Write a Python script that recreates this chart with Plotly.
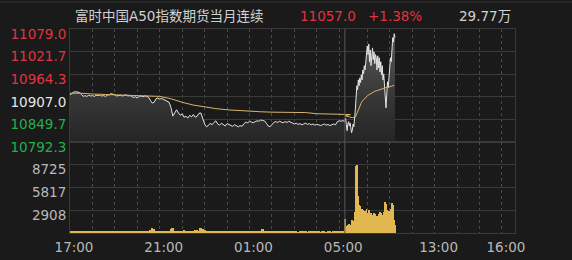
import plotly.graph_objects as go

# ---------------- data ----------------
title_text = "富时中国A50指数期货当月连续"
last_price_text = "11057.0"
change_text = "+1.38%"
volume_total_text = "29.77万"

prev_close = 10907.0
price_ticks = [10792.3, 10849.7, 10907.0, 10964.3, 11021.7, 11079.0]
pct_labels = ["1.05%", "0.53%", "0.00%", "0.53%", "1.05%", "1.58%"]
vol_ticks = [2908, 5817, 8725]
vol_top = 11633
x_tick_labels = ["17:00", "21:00", "01:00", "05:00", "13:00", "16:00"]
hour_marks = ["18:00", "19:00", "20:00", "21:00", "22:00", "23:00", "00:00", "01:00",
              "02:00", "03:00", "04:00", "05:00", "10:00", "11:00", "12:00", "13:00",
              "14:00", "15:00", "16:00"]
session_break = "09:00"
axis_end = "16:35"

# night session 17:00 -> 05:15, one value per 5 minutes
night_price = [
    10912, 10916, 10919, 10920, 10919, 10918, 10914, 10908, 10910, 10908,
    10911, 10909, 10910, 10908, 10911, 10910, 10912, 10909, 10910, 10908,
    10911, 10912, 10915, 10914, 10912, 10909, 10910, 10911, 10909, 10910,
    10912, 10909, 10910, 10908, 10905, 10907, 10904, 10908, 10909, 10907,
    10909, 10908, 10906, 10898, 10891, 10893, 10902, 10904, 10901, 10903,
    10900, 10898, 10896, 10893, 10880, 10858, 10866, 10874, 10866, 10860,
    10864, 10855, 10858, 10853, 10860, 10856, 10862, 10855, 10858, 10865,
    10866, 10852, 10838, 10831, 10834, 10840, 10836, 10842, 10846, 10838,
    10835, 10840, 10837, 10833, 10839, 10836, 10834, 10832, 10836, 10833,
    10831, 10834, 10832, 10838, 10843, 10841, 10845, 10843, 10841, 10844,
    10846, 10845, 10848, 10847, 10846, 10840, 10833, 10831, 10836, 10842,
    10844, 10842, 10845, 10843, 10841, 10844, 10842, 10845, 10843, 10841,
    10838, 10840, 10837, 10839, 10836, 10838, 10840, 10837, 10839, 10836,
    10838, 10835, 10837, 10836, 10834, 10836, 10838, 10835, 10837, 10834,
    10836, 10838, 10836, 10844, 10846, 10845, 10847, 10843,
]
night_vol = [
    150, 180, 260, 200, 260, 150, 260, 230, 150, 150,
    200, 150, 200, 130, 150, 140, 150, 130, 150, 140,
    150, 130, 150, 140, 160, 150, 260, 260, 150, 130,
    150, 140, 150, 130, 150, 250, 160, 140, 150, 130,
    150, 160, 170, 380, 650, 450, 200, 170, 160, 200,
    170, 160, 180, 220, 550, 580, 300, 200, 250, 200,
    250, 400, 200, 250, 200, 220, 300, 400, 380, 300,
    700, 550, 350, 320, 280, 200, 220, 250, 200, 230,
    200, 250, 200, 220, 200, 240, 200, 210, 250, 200,
    220, 200, 240, 200, 210, 230, 200, 220, 200, 240,
    210, 230, 250, 450, 260, 220, 220, 200, 150, 140,
    130, 150, 140, 130, 150, 140, 220, 140, 130, 150,
    130, 140, 120, 150, 130, 140, 130, 120, 140, 130,
    130, 140, 220, 130, 120, 140, 130, 120, 130, 140,
    120, 220, 130, 140, 150, 180, 200, 260,
]
# night average price, one value per 30 minutes
night_avg = [10916, 10916, 10914, 10913, 10913, 10912, 10911, 10910, 10908, 10902,
             10893, 10886, 10881, 10877, 10874, 10872, 10871, 10869, 10868, 10868,
             10868, 10867, 10864, 10863, 10863, 10862]

# day session from 09:00, one value per 2 minutes
day_price = [
    10846, 10853, 10836, 10821, 10838, 10844, 10833, 10841, 10828, 10816,
    10823, 10838, 10831, 10849, 10874, 10904, 10935, 10925, 10950, 10935,
    10955, 10943, 10963, 10950, 10975, 10965, 10986, 10975, 11001, 11021,
    11036, 11014, 11041, 10996, 11026, 10986, 11019, 11031, 11001, 11021,
    10991, 11014, 11006, 10975, 11011, 10981, 11006, 10970, 10996, 10963,
    10986, 10950, 10965, 10930, 10904, 10879, 10912, 10945, 10930, 10955,
    10975, 11006, 10996, 11031, 11057, 11046, 11067, 11057,
]
day_vol = [
    1550, 1160, 900, 650, 1030, 900, 1160, 775, 1030, 1290,
    1680, 1160, 1550, 1940, 2710, 8530, 8650, 6070, 4780, 3620,
    3230, 3490, 2710, 3100, 2580, 2970, 2330, 2840, 2450, 3100,
    2580, 2200, 2970, 2450, 2070, 2580, 1940, 2330, 1810, 2580,
    2070, 2450, 1810, 2200, 1680, 2450, 1940, 2710, 2070, 2580,
    1940, 2330, 2710, 3230, 4000, 3750, 2450, 2970, 2200, 2840,
    2330, 2710, 3100, 3880, 2970, 3620, 1680, 1030,
]
# day average price, one value per 4 minutes
day_avg = [10859, 10857.5, 10856, 10856, 10855, 10854, 10854, 10855, 10864, 10874,
           10884, 10892, 10897, 10902, 10906, 10909.5, 10912, 10914.6, 10917, 10920,
           10921, 10922, 10923.5, 10925, 10927, 10928.5, 10930, 10931, 10931, 10932,
           10932, 10933.5, 10935, 10936]

# ---------------- helpers ----------------
NIGHT_LEN = 735  # minutes 17:00 -> 05:15


def axis_pos(clock):
    hh, mm = map(int, clock.split(":"))
    m = hh * 60 + mm
    if 9 * 60 <= m < 17 * 60:
        return NIGHT_LEN + (m - 9 * 60)
    return (m - 17 * 60) % 1440


night_x = [i * 5 for i in range(len(night_price))]
day_x = [NIGHT_LEN + j * 2 for j in range(len(day_price))]
night_avg_x = [k * 30 for k in range(len(night_avg))]
day_avg_x = [NIGHT_LEN + m * 4 for m in range(len(day_avg))]

price_x = night_x + day_x
price_y = night_price + day_price
avg_x = night_avg_x + day_avg_x
avg_y = night_avg + day_avg
vol_x = night_x + day_x
vol_y = night_vol + day_vol
vol_w = [5] * len(night_vol) + [2] * len(day_vol)

RED = "#e2333e"
GREEN = "#22b04e"
WHITE = "#e6e6e6"
GREY = "#b9b9b9"
BG = "#1a1a1a"
GRID = "#3a3a3a"
FONT = "DejaVu Sans, Noto Sans CJK SC"


def color_for(v):
    if abs(v - prev_close) < 0.05:
        return WHITE
    return RED if v > prev_close else GREEN


left_text = [f'<span style="color:{color_for(v)}">{v:.1f}</span>' for v in price_ticks]
right_text = [f'<span style="color:{color_for(v)}">{t}</span>' for v, t in zip(price_ticks, pct_labels)]

x_end = axis_pos(axis_end)
x_tick_vals = [axis_pos(t) for t in x_tick_labels]
hour_vals = [axis_pos(t) for t in hour_marks]

fig = go.Figure()
fig.add_trace(go.Scatter(
    x=price_x, y=price_y, mode="lines", xaxis="x", yaxis="y",
    line=dict(color="#e4e4e4", width=1),
    fill="tozeroy",
    fillgradient=dict(type="vertical",
                      colorscale=[[0, "#252525"], [0.4, "#373737"], [1, "#5c5c5c"]],
                      start=price_ticks[0], stop=price_ticks[-1]),
    hoverinfo="skip", showlegend=False,
))
fig.add_trace(go.Scatter(
    x=avg_x, y=avg_y, mode="lines", xaxis="x", yaxis="y",
    line=dict(color="#d9b46a", width=1), hoverinfo="skip", showlegend=False,
))
fig.add_trace(go.Bar(
    x=vol_x, y=vol_y, width=vol_w, xaxis="x2", yaxis="y2",
    marker=dict(color="#e2b74f", line=dict(width=0)), hoverinfo="skip", showlegend=False,
))

minor_grid = dict(tickmode="array", tickvals=hour_vals, showgrid=True,
                  gridcolor="#4a4a4a", griddash="dot", gridwidth=1, ticklen=0)

price_dom = [91 / 204, 1]
vol_dom = [0, 91 / 204]
LBL_SHIFT = 5

fig.update_layout(
    width=572, height=260,
    margin=dict(l=70, r=57, t=29, b=27, autoexpand=False),
    paper_bgcolor=BG, plot_bgcolor=BG,
    font=dict(family=FONT, size=13.5, color=GREY),
    bargap=0,
    xaxis=dict(domain=[0, 1], anchor="y", range=[0, x_end], showticklabels=False,
               showgrid=False, zeroline=False, showline=True, mirror=True, automargin=False,
               linecolor=GRID, linewidth=1, ticks="", minor=minor_grid, matches="x2"),
    yaxis=dict(domain=price_dom, anchor="x", range=[price_ticks[0], price_ticks[-1]],
               tickmode="array", tickvals=price_ticks, ticktext=left_text, automargin=False,
               showgrid=True, gridcolor=GRID, gridwidth=1, zeroline=False,
               showline=True, mirror=True, linecolor=GRID, ticks="",
               ticklabelshift=LBL_SHIFT, tickfont=dict(size=13.5)),
    yaxis3=dict(overlaying="y", side="right", anchor="x", range=[price_ticks[0], price_ticks[-1]],
                tickmode="array", tickvals=price_ticks, ticktext=right_text, automargin=False,
                showgrid=False, zeroline=False, ticks="", ticklabelshift=LBL_SHIFT,
                tickfont=dict(size=13.5)),
    xaxis2=dict(domain=[0, 1], anchor="y2", range=[0, x_end], automargin=False,
                tickmode="array", tickvals=x_tick_vals, ticktext=x_tick_labels,
                showgrid=False, zeroline=False, showline=True, mirror=True,
                linecolor=GRID, ticks="", ticklabelshift=4, ticklabelstandoff=2,
                tickfont=dict(size=13.5, color=GREY), minor=minor_grid),
    yaxis2=dict(domain=vol_dom, anchor="x2", range=[0, vol_top], automargin=False,
                tickmode="array", tickvals=vol_ticks, ticktext=[str(v) for v in vol_ticks],
                showgrid=True, gridcolor=GRID, zeroline=False, showline=True, mirror=True,
                linecolor=GRID, ticks="", ticklabelshift=LBL_SHIFT,
                tickfont=dict(size=13.5, color=GREY)),
)

# session break line
fig.add_shape(type="line", xref="x", yref="paper", x0=axis_pos(session_break), x1=axis_pos(session_break),
              y0=0, y1=1, line=dict(color="#555555", width=1))
# header separator line
fig.add_shape(type="line", xref="paper", yref="paper", x0=-70 / 445, x1=1 + 57 / 445,
              y0=1 + 27 / 204, y1=1 + 27 / 204, line=dict(color="#333333", width=1))

header_y = 1 + 13 / 204
fig.add_annotation(text=title_text, xref="paper", yref="paper", x=0.006, y=header_y,
                   xanchor="left", yanchor="middle", showarrow=False,
                   font=dict(family=FONT, size=13.5, color="#d2d2d2"))
fig.add_annotation(text=last_price_text, xref="paper", yref="paper", x=(298 - 70) / 445, y=header_y,
                   xanchor="left", yanchor="middle", showarrow=False,
                   font=dict(family=FONT, size=13.5, color=RED))
fig.add_annotation(text=change_text, xref="paper", yref="paper", x=(366 - 70) / 445, y=header_y,
                   xanchor="left", yanchor="middle", showarrow=False,
                   font=dict(family=FONT, size=13.5, color=RED))
fig.add_annotation(text=volume_total_text, xref="paper", yref="paper", x=(457 - 70) / 445, y=header_y,
                   xanchor="left", yanchor="middle", showarrow=False,
                   font=dict(family=FONT, size=13.5, color="#d2d2d2"))

fig.write_html("out.html")
